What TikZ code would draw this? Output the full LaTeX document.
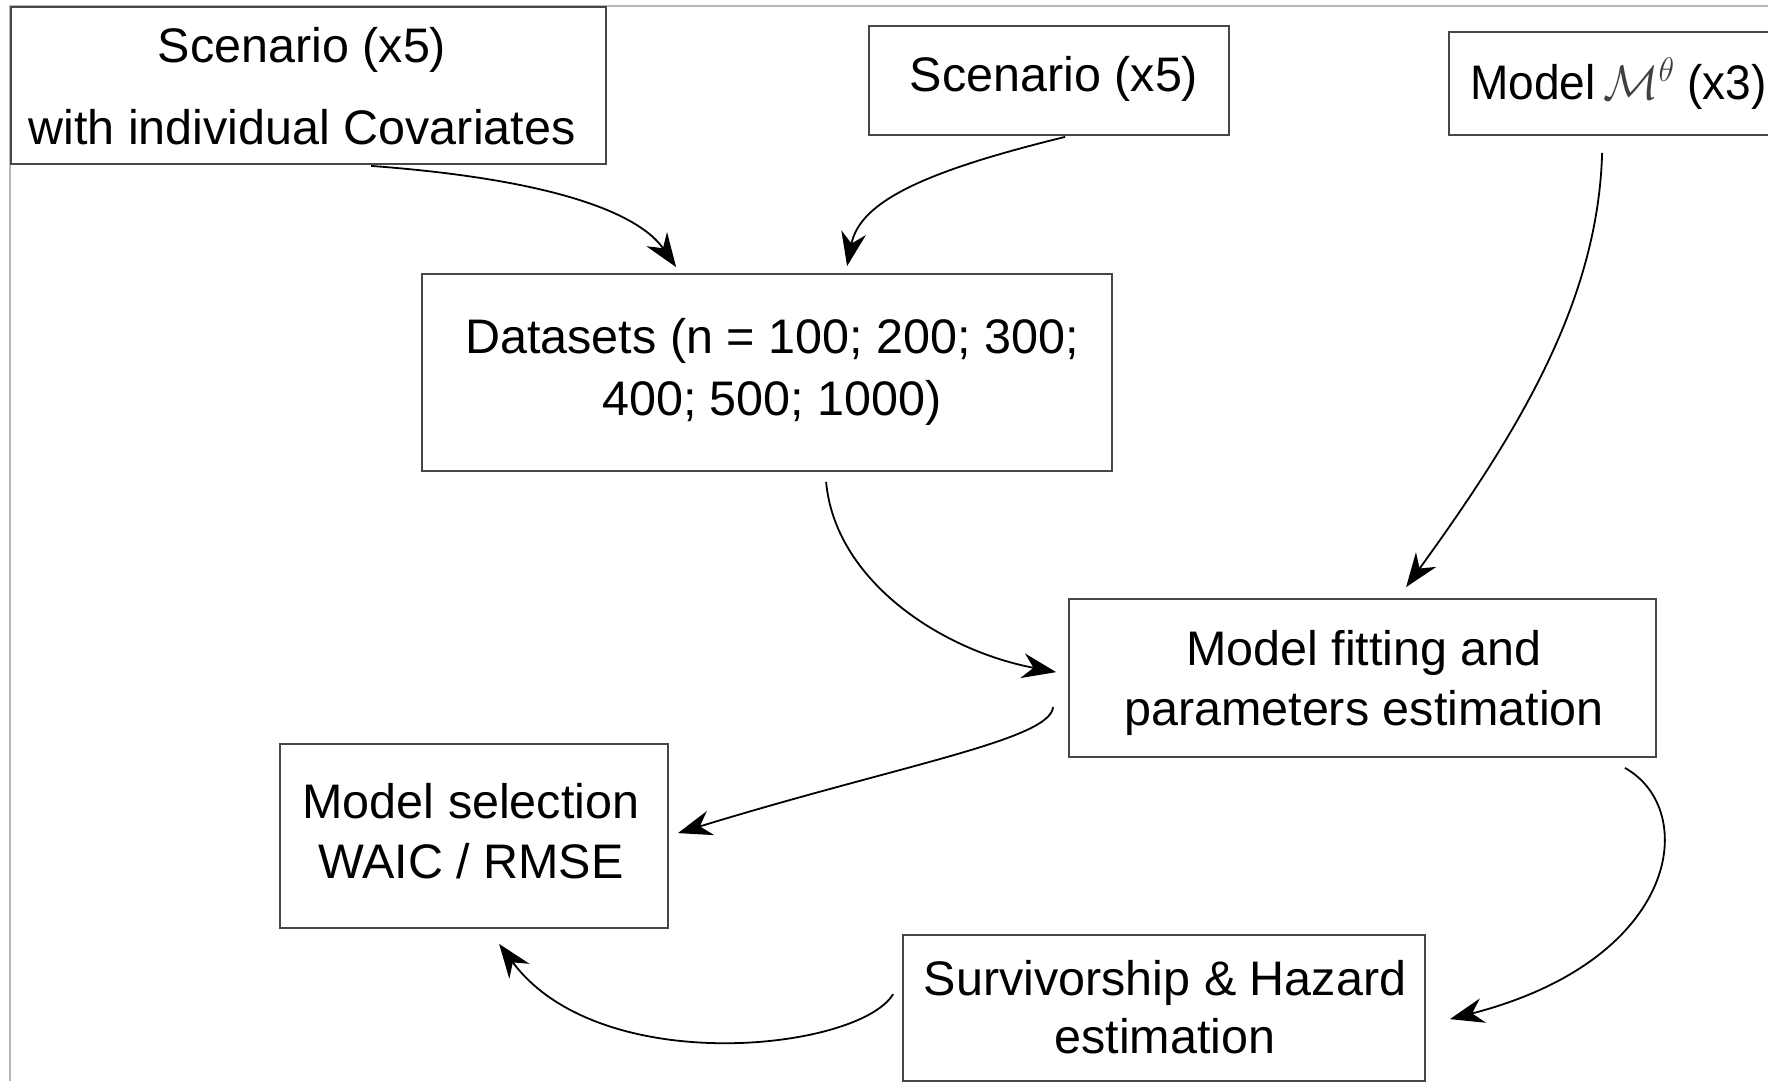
\RequirePackage{fix-cm}
\documentclass[tikz,border=0pt]{standalone}
\usepackage{graphicx}
\usepackage{fontspec}
\setmainfont{Liberation Sans}
\usetikzlibrary{arrows.meta,calc}
\begin{document}
\begin{tikzpicture}[x=1pt,y=-1pt,
  boxnode/.style={draw=black!72,line width=1.8pt,rectangle,inner sep=0pt},
  txt/.style={font=\fontsize{48.5}{60}\selectfont,align=center,inner sep=0pt,anchor=base},
  arr/.style={line width=1.8pt,-{Stealth[length=34pt,width=25pt,inset=11pt]}}]
\useasboundingbox (0,0) rectangle (1768,1081);
\clip (0,0) rectangle (1768,1081);
\draw[black!28,line width=2pt] (10,1081) -- (10,6) -- (1768,6);
% boxes
\node[boxnode,minimum width=595pt,minimum height=157pt] (b1) at (308.5,85.5) {};
\node[boxnode,minimum width=360pt,minimum height=109pt] (b2) at (1049,80.5) {};
\node[boxnode,minimum width=333pt,minimum height=103pt] (b3) at (1615.5,83.5) {};
\node[boxnode,minimum width=690pt,minimum height=197pt] (b4) at (767,372.5) {};
\node[boxnode,minimum width=587pt,minimum height=158pt] (b5) at (1362.5,678) {};
\node[boxnode,minimum width=388pt,minimum height=184pt] (b6) at (474,836) {};
\node[boxnode,minimum width=522pt,minimum height=146pt] (b7) at (1164,1008) {};
% texts (base anchor = baseline of the last line)
\node[txt] (t1) at (302,144) {Scenario (x5)\\[22pt]with individual Covariates};
\node[txt] (t2) at (1054,92) {Scenario (x5)};
\node[txt,anchor=base west] (t3) at (1470,99) {\scalebox{0.95}[1]{Model\,\textcolor{black!75}{$\mathcal{M}^{\theta}$} (x3)}};
\node[txt] (t4) at (772,415) {Datasets (n = 100; 200; 300;\\[2pt]400; 500; 1000)};
\node[txt] (t5) at (1364,725) {Model fitting and\\parameters estimation};
\node[txt] (t6) at (471,878) {Model selection\\WAIC / RMSE};
\node[txt] (t7) at (1165,1053) {Survivorship \& Hazard\\[-2pt]estimation};
% connectors
\draw[arr] ($(b1.south west)+(361,1)$) .. controls (560,180) and (640,215) .. ($(b4.north west)+(255,-6)$);
\draw[arr] ($(b2.south west)+(197,1)$) .. controls (930,170) and (860,200) .. ($(b4.north west)+(426,-7)$);
\draw[arr] ($(b3.south west)+(154,17)$) .. controls (1598,300) and (1520,430) .. ($(b5.north west)+(338,-11)$);
\draw[arr] ($(b4.south west)+(405,10)$) .. controls (835,580) and (940,650) .. ($(b5.north west)+(-12,74)$);
\draw[arr] ($(b5.north west)+(-15,109)$) .. controls (1050,740) and (900,765) .. ($(b6.north east)+(9,90)$);
\draw[arr] ($(b5.south east)+(-32,10)$) .. controls (1700,810) and (1680,960) .. ($(b7.north east)+(24,85)$);
\draw[arr] ($(b7.north west)+(-9,60)$) .. controls (860,1050) and (600,1080) .. ($(b6.south west)+(220,15)$);
\end{tikzpicture}
\end{document}
